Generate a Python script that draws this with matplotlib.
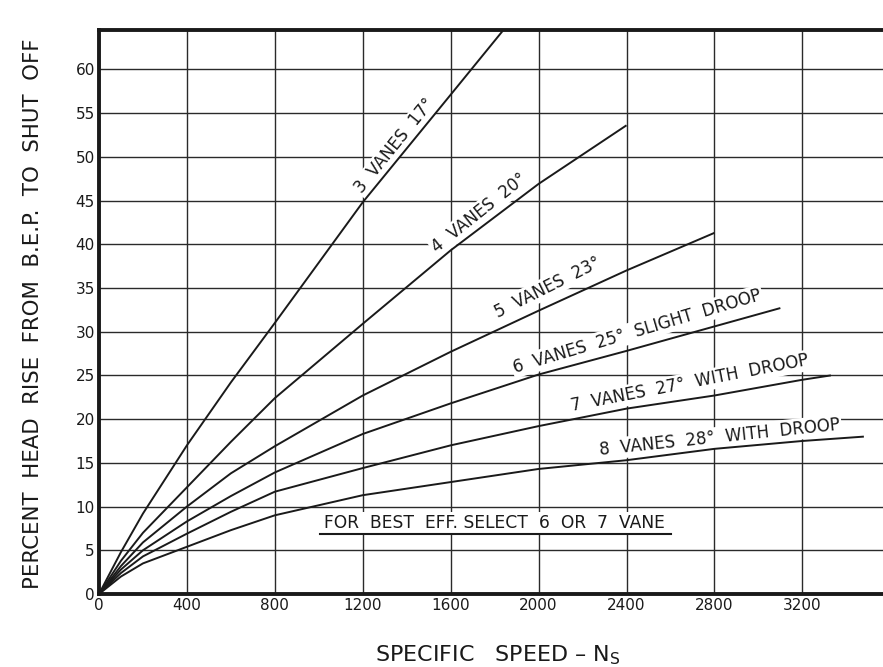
import numpy as np
import matplotlib
matplotlib.use("Agg")
import matplotlib.pyplot as plt
from matplotlib.lines import Line2D

plt.rcParams['font.family'] = ['DejaVu Sans']

# ---- data ----
x_vanes3 = [0, 100, 200, 400, 600, 800, 1200, 1600, 1840]
y_vanes3 = [0, 4.8, 9.2, 17.0, 24.2, 31.0, 44.8, 57.1, 64.5]

x_vanes4 = [0, 100, 200, 400, 600, 800, 1200, 1600, 2000, 2400]
y_vanes4 = [0, 3.8, 7.0, 12.2, 17.4, 22.4, 30.9, 39.3, 46.9, 53.6]

x_vanes5 = [0, 100, 200, 400, 600, 800, 1200, 1600, 2000, 2400, 2800]
y_vanes5 = [0, 3.2, 5.9, 10.0, 13.8, 16.9, 22.7, 27.7, 32.4, 37.0, 41.3]

x_vanes6 = [0, 100, 200, 400, 600, 800, 1200, 1600, 2000, 2400, 2800, 3100]
y_vanes6 = [0, 2.8, 5.0, 8.3, 11.2, 13.9, 18.3, 21.8, 25.1, 27.8, 30.6, 32.7]

x_vanes7 = [0, 100, 200, 400, 600, 800, 1200, 1600, 2000, 2400, 2800, 3200, 3330]
y_vanes7 = [0, 2.4, 4.3, 6.9, 9.4, 11.7, 14.4, 17.0, 19.2, 21.2, 22.7, 24.5, 25.0]

x_vanes8 = [0, 100, 200, 400, 600, 800, 1200, 1600, 2000, 2400, 2800, 3200, 3480]
y_vanes8 = [0, 2.0, 3.5, 5.4, 7.3, 9.0, 11.3, 12.8, 14.3, 15.3, 16.6, 17.5, 18.0]

curve_labels = ["3  VANES  17°", "4  VANES  20°", "5  VANES  23°",
                "6  VANES  25°  SLIGHT  DROOP", "7  VANES  27°  WITH  DROOP",
                "8  VANES  28°  WITH  DROOP"]

x_ticks = [0, 400, 800, 1200, 1600, 2000, 2400, 2800, 3200]
y_ticks = [0, 5, 10, 15, 20, 25, 30, 35, 40, 45, 50, 55, 60]

note_text = "FOR  BEST  EFF. SELECT  6  OR  7  VANE"
x_label = "SPECIFIC   SPEED – N$_\\mathregular{S}$"
y_label = "PERCENT  HEAD  RISE  FROM  B.E.P.  TO  SHUT  OFF"

# ---- figure ----
W, H = 883, 667
fig = plt.figure(figsize=(W / 100, H / 100), dpi=100)
fig.patch.set_facecolor('white')
ax = fig.add_axes([99 / W, (H - 594) / H, (W - 99) / W, (594 - 30) / H])
ax.set_facecolor('white')
ax.set_xlim(0, 3567)
ax.set_ylim(0, 64.5)

ink = '#1a1a1a'
ax.set_xticks(x_ticks)
ax.set_yticks(y_ticks)
ax.set_xticklabels([str(v) for v in x_ticks], fontsize=11, color=ink)
ax.set_yticklabels([str(v) for v in y_ticks], fontsize=11, color=ink)
ax.tick_params(length=0, pad=3)
ax.grid(True, color='#2a2a2a', linewidth=1.0, zorder=1)
ax.set_axisbelow(True)

for side in ['left', 'bottom', 'top']:
    ax.spines[side].set_linewidth(2.8)
    ax.spines[side].set_color(ink)
ax.spines['right'].set_visible(False)

series = [(x_vanes3, y_vanes3), (x_vanes4, y_vanes4), (x_vanes5, y_vanes5),
          (x_vanes6, y_vanes6), (x_vanes7, y_vanes7), (x_vanes8, y_vanes8)]
for xs, ys in series:
    ax.plot(xs, ys, color=ink, linewidth=1.4, zorder=4, clip_on=True,
            solid_capstyle='butt')

# label anchors (baseline start, data coords) and screen angles
label_pos = [(1197, 45.7), (1538, 39.0), (1815, 31.6),
             (1893, 25.3), (2152, 20.9), (2279, 15.9)]
label_angle = [51, 38.5, 26.5, 16.5, 11, 6]
for s, (x0, y0), ang in zip(curve_labels, label_pos, label_angle):
    ax.text(x0, y0, s, rotation=ang, rotation_mode='anchor',
            ha='left', va='baseline', fontsize=12, color=ink, zorder=3,
            bbox=dict(boxstyle='square,pad=0.1', facecolor='white', edgecolor='none'))

note_x, note_y = 1025, 7.5
note = ax.text(note_x, note_y, note_text, ha='left', va='baseline', fontsize=12.3,
               color=ink, zorder=3,
               bbox=dict(boxstyle='square,pad=0.15', facecolor='white', edgecolor='none'))

fig.text(33 / W, (H - 314) / H, y_label, rotation=90, ha='center', va='center',
         fontsize=15.3, color=ink)
fig.text(498 / W, (H - 655) / H, x_label, ha='center', va='center',
         fontsize=16, color=ink)

# underline for the note
fig.canvas.draw()
ext = note.get_window_extent()
bx, by = ax.transData.transform((note_x, note_y))
inv = fig.transFigure.inverted()
p0 = inv.transform((ext.x0 - 4, by - 6))
p1 = inv.transform((ext.x1 + 6, by - 6))
fig.add_artist(Line2D([p0[0], p1[0]], [p0[1], p1[1]], color=ink, linewidth=1.5,
                      transform=fig.transFigure))

fig.savefig('out.png', dpi=100, facecolor='white')
